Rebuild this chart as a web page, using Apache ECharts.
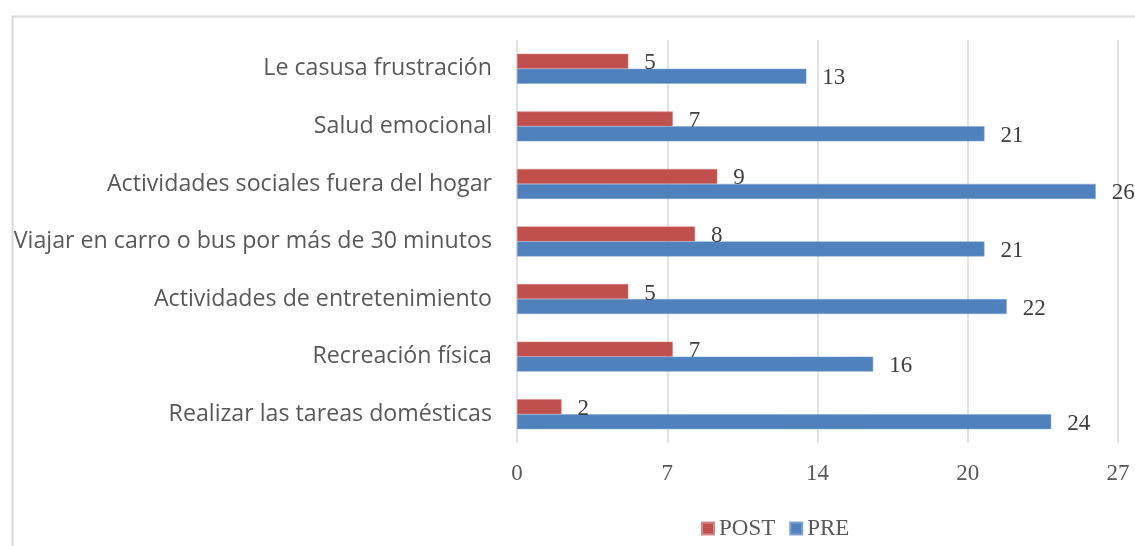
<!DOCTYPE html>
<html>
<head>
<meta charset="utf-8">
<script src="https://cdn.jsdelivr.net/npm/echarts@6/dist/echarts.min.js"></script>
<style>
  html, body { margin: 0; padding: 0; background: #fff; }
  #chart { width: 1135px; height: 546px; }
</style>
</head>
<body>
<div id="chart"></div>
<script>
// categories, bottom to top (category axis starts at the bottom)
var categories = [
  'Realizar las tareas domésticas',
  'Recreación física',
  'Actividades de entretenimiento',
  'Viajar en carro o bus por más de 30 minutos',
  'Actividades sociales fuera del hogar',
  'Salud emocional',
  'Le casusa frustración'
];
var postValues = [2, 7, 5, 8, 9, 7, 5];
var preValues = [24, 16, 22, 21, 26, 21, 13];
var xTickLabels = ['0', '7', '14', '20', '27'];

var serifFont = '"Liberation Serif", "DejaVu Serif", serif';
var sansFont = '"Open Sans", "Noto Sans", sans-serif';

var chart = echarts.init(document.getElementById('chart'));
var option = {
  animation: false,
  graphic: [{
    type: 'rect',
    left: 10, top: 14,
    shape: { width: 1200, height: 600 },
    style: { fill: 'none', stroke: '#d9d9d9', lineWidth: 2 }
  }],
  legend: {
    data: ['POST', 'PRE'],
    left: 696,
    top: 512,
    itemWidth: 12,
    itemHeight: 12,
    itemGap: 14,
    icon: 'rect',
    textStyle: { fontFamily: serifFont, fontSize: 23, color: '#595959' }
  },
  grid: { left: 517, right: 17, top: 40, bottom: 103 },
  xAxis: {
    type: 'value',
    min: 0,
    max: 27,
    interval: 6.75,
    axisLine: { show: false },
    axisTick: { show: false },
    splitLine: { lineStyle: { color: '#d9d9d9', width: 1.5 } },
    axisLabel: {
      margin: 19,
      fontFamily: serifFont,
      fontSize: 23,
      color: '#595959',
      formatter: function (v, i) { return xTickLabels[i]; }
    }
  },
  yAxis: {
    type: 'category',
    data: categories,
    axisLine: { show: false },
    axisTick: { show: false },
    axisLabel: {
      margin: 25,
      fontFamily: sansFont,
      fontSize: 23.2,
      color: '#595959'
    }
  },
  series: [
    {
      name: 'POST',
      type: 'bar',
      data: postValues,
      barGap: '0%',
      barCategoryGap: '48%',
      itemStyle: { color: '#c0504d', borderColor: '#d88583', borderWidth: 0.5 },
      label: {
        show: true, position: 'right', distance: 16, offset: [0, 2],
        fontFamily: serifFont, fontSize: 23, color: '#404040'
      }
    },
    {
      name: 'PRE',
      type: 'bar',
      data: preValues,
      barGap: '0%',
      barCategoryGap: '48%',
      itemStyle: { color: '#4f81bd', borderColor: '#7fa3d1', borderWidth: 0.5 },
      label: {
        show: true, position: 'right', distance: 16, offset: [0, 2],
        fontFamily: serifFont, fontSize: 23, color: '#404040'
      }
    }
  ]
};
chart.setOption(option);
</script>
</body>
</html>
